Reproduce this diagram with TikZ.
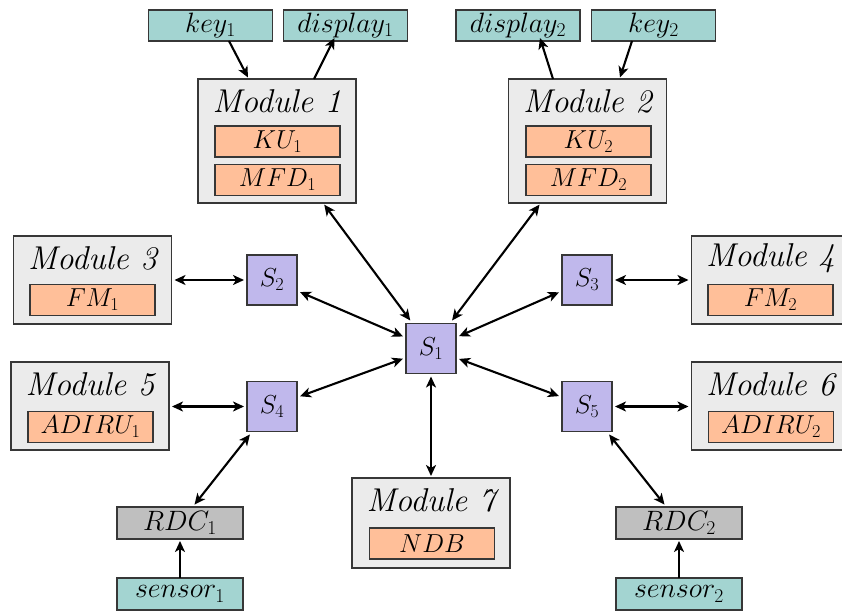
\RequirePackage{fix-cm}
\documentclass[tikz,border=0pt]{standalone}
\usetikzlibrary{arrows.meta,calc}
\definecolor{tealbox}{RGB}{163,212,209}
\definecolor{orangebox}{RGB}{255,191,153}
\definecolor{lavbox}{RGB}{192,184,236}
\definecolor{modfill}{RGB}{235,235,235}
\definecolor{rdcfill}{RGB}{191,191,191}
\definecolor{bordc}{RGB}{55,55,55}
\begin{document}
\begin{tikzpicture}[x=1pt,y=-1pt,
  base/.style={draw=bordc,line width=1.2pt,inner sep=0pt,outer sep=0pt,font=\fontsize{26}{30}\selectfont},
  modbox/.style={base,fill=modfill,minimum width=158pt},
  unitbox/.style={base,fill=orangebox,minimum width=125pt,minimum height=31pt},
  iobox/.style={base,fill=tealbox,minimum width=124pt,minimum height=31pt,font=\fontsize{28}{32}\selectfont},
  rdcbox/.style={base,fill=rdcfill,minimum width=126pt,minimum height=32pt,font=\fontsize{28}{32}\selectfont},
  swbox/.style={base,fill=lavbox,minimum width=50pt,minimum height=50pt,outer sep=3pt},
  title/.style={inner sep=0pt,font=\fontsize{33}{36}\selectfont\itshape},
  link/.style={line width=2.1pt,{Stealth[length=11pt,width=10pt,inset=3pt]}-{Stealth[length=11pt,width=10pt,inset=3pt]}},
  oneway/.style={line width=2.1pt,-{Stealth[length=11pt,width=10pt,inset=3pt]}}]
\useasboundingbox (0,0) rectangle (842,612);
\clip (0,0) rectangle (842,612);
% modules
\node[modbox,minimum height=124pt] (m1) at (277,141) {};
\node[title] (m1t) at (277,101) {Module 1};
\node[unitbox] (ku1) at (277.5,141.5) {$KU_1$};
\node[unitbox] (mfd1) at (277.5,180) {$MFD_1$};
\node[modbox,minimum height=124pt] (m2) at (587.5,141) {};
\node[title] (m2t) at (587.5,101) {Module 2};
\node[unitbox] (ku2) at (588.5,141.5) {$KU_2$};
\node[unitbox] (mfd2) at (588.5,180) {$MFD_2$};
\node[modbox,minimum height=88pt] (m3) at (92.5,280) {};
\node[title] (m3t) at (92.5,258) {Module 3};
\node[unitbox] (fm1) at (92.5,300) {$FM_1$};
\node[modbox,minimum height=88pt] (m4) at (770.5,280) {};
\node[title] (m4t) at (770.5,258) {Module 4};
\node[unitbox] (fm2) at (770.5,300) {$FM_2$};
\node[modbox,minimum height=88pt] (m5) at (90,406) {};
\node[title] (m5t) at (90,384) {Module 5};
\node[unitbox] (adiru1) at (90.5,427) {$ADIRU_1$};
\node[modbox,minimum height=88pt] (m6) at (770.5,406) {};
\node[title] (m6t) at (770.5,384) {Module 6};
\node[unitbox] (adiru2) at (771,427) {$ADIRU_2$};
\node[modbox,minimum height=90pt] (m7) at (431,523) {};
\node[title] (m7t) at (431,500) {Module 7};
\node[unitbox] (ndb) at (432,543.5) {$NDB$};
% io boxes
\node[iobox] (key1) at (210.5,25.5) {$key_1$};
\node[iobox] (disp1) at (345.5,25.5) {$display_1$};
\node[iobox] (disp2) at (518,25.5) {$display_2$};
\node[iobox] (key2) at (653.5,25.5) {$key_2$};
\node[rdcbox] (rdc1) at (180,523) {$RDC_1$};
\node[iobox,minimum width=126pt,minimum height=32pt] (sen1) at (180,594) {$sensor_1$};
\node[rdcbox] (rdc2) at (679,523) {$RDC_2$};
\node[iobox,minimum width=126pt,minimum height=32pt] (sen2) at (679,594) {$sensor_2$};
% switches
\node[swbox] (s1) at (431,348.5) {$S_1$};
\node[swbox] (s2) at (272,280) {$S_2$};
\node[swbox] (s3) at (587,280) {$S_3$};
\node[swbox] (s4) at (272,406.5) {$S_4$};
\node[swbox] (s5) at (587,406.5) {$S_5$};
% connectors
\draw[oneway] ([xshift=18.5pt]key1.south) -- ([xshift=-29pt,yshift=1.5pt]m1.north);
\draw[oneway] ([xshift=37pt]m1.north) -- ([xshift=-11pt,yshift=3pt]disp1.south);
\draw[oneway] ([xshift=-34.5pt]m2.north) -- ([xshift=22pt,yshift=3pt]disp2.south);
\draw[oneway] ([xshift=-21.5pt]key2.south) -- ([xshift=32.5pt,yshift=1.5pt]m2.north);
\draw[link,shorten <=2pt] (m1) -- (s1);
\draw[link,shorten <=2pt] (m2) -- (s1);
\draw[link] (s2) -- (s1);
\draw[link] (s3) -- (s1);
\draw[link] (s4) -- (s1);
\draw[link] (s5) -- (s1);
\draw[link,shorten <=2pt] (m7) -- (s1);
\draw[link,shorten <=3pt] (m3.east |- s2) -- (s2);
\draw[link,shorten <=3pt] (m5.east |- s4) -- (s4);
\draw[link,shorten <=3pt] (m4.west |- s3) -- (s3);
\draw[link,shorten <=3pt] (m6.west |- s5) -- (s5);
\draw[link,shorten <=3pt] (rdc1) -- (s4);
\draw[link,shorten <=3pt] (rdc2) -- (s5);
\draw[oneway,shorten >=2pt] (sen1) -- (rdc1);
\draw[oneway,shorten >=2pt] (sen2) -- (rdc2);
\end{tikzpicture}
\end{document}
